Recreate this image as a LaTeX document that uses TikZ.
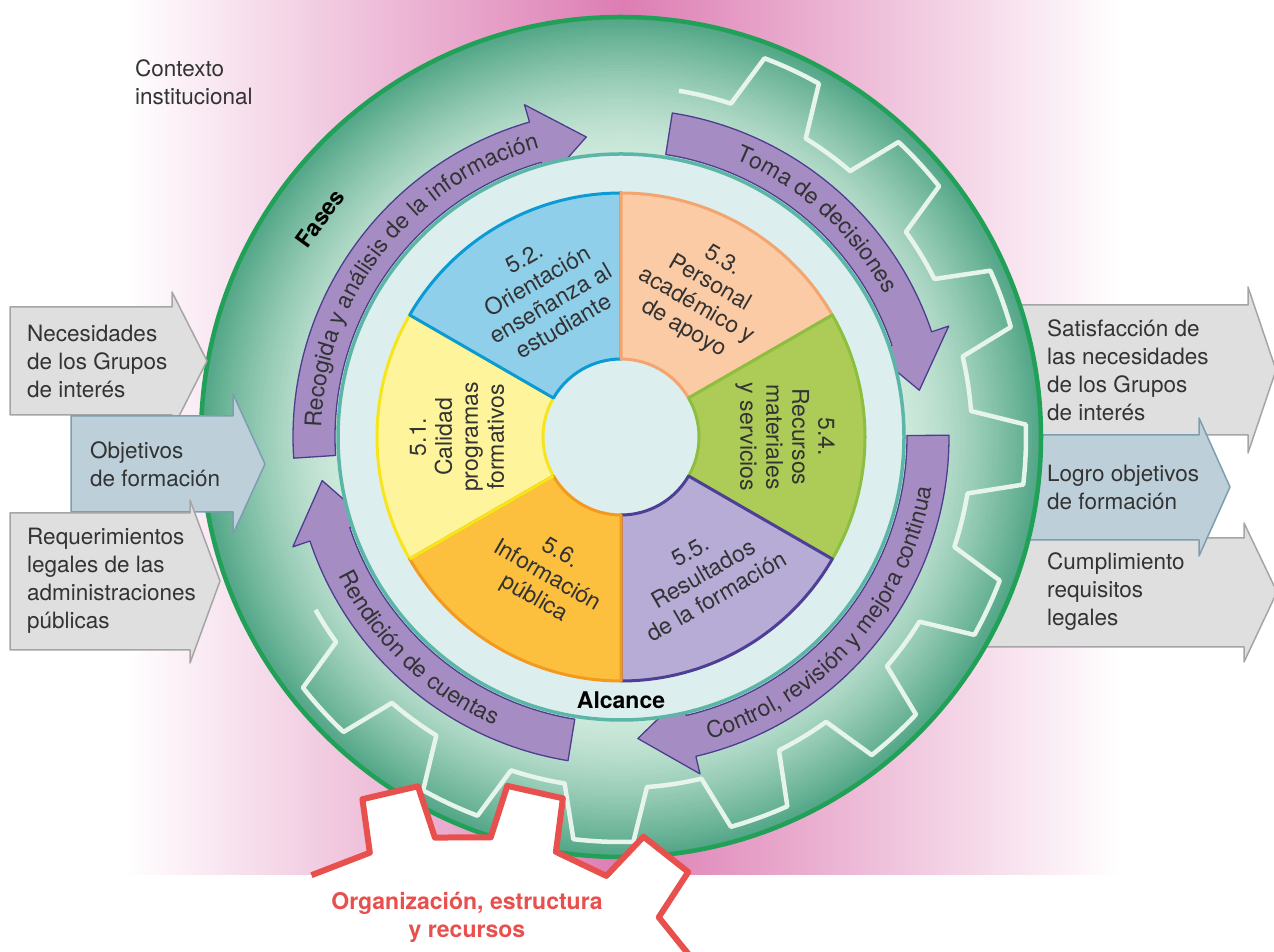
\documentclass[tikz,border=0pt]{standalone}
\usepackage{fontspec}
\setmainfont{TeX Gyre Heros}
\usetikzlibrary{decorations.text}

\definecolor{bgpink}{HTML}{DD7DB3}
\definecolor{ringA}{HTML}{CBE8DA}
\definecolor{ringE}{HTML}{52A687}
\definecolor{ringedge}{HTML}{21A058}
\definecolor{gearwhite}{HTML}{E6F4EC}
\definecolor{phasefill}{HTML}{A58DC4}
\definecolor{phaseedge}{HTML}{4E3C8E}
\definecolor{diskfill}{HTML}{DDEEEE}
\definecolor{diskedge}{HTML}{5CB6A8}
\definecolor{txt}{HTML}{333333}
\definecolor{boxgray}{HTML}{DFDFE0}
\definecolor{boxgrayedge}{HTML}{A5A5A7}
\definecolor{boxblue}{HTML}{BDD0DA}
\definecolor{boxblueedge}{HTML}{7C9EAF}
\definecolor{redgear}{HTML}{E8504E}
\definecolor{fA}{HTML}{FDF49C}\definecolor{dA}{HTML}{F7E51B}
\definecolor{fB}{HTML}{90CFEA}\definecolor{dB}{HTML}{0A9AD6}
\definecolor{fC}{HTML}{FBCBA5}\definecolor{dC}{HTML}{F4A46F}
\definecolor{fD}{HTML}{ADCB57}\definecolor{dD}{HTML}{8CBF3F}
\definecolor{fE}{HTML}{B6ACD6}\definecolor{dE}{HTML}{4C3F95}
\definecolor{fF}{HTML}{FCC03E}\definecolor{dF}{HTML}{F39A1E}

\newcommand\arcfont{\fontsize{23}{26}\selectfont}
\newcommand\phasearrow[3]{%
  \draw[phase] (#1:286pt) -- (#1:328pt) arc[start angle=#1, end angle=#2, radius=328pt]
    -- (#2:346pt) -- (#3:302pt) -- (#2:266pt) -- (#2:286pt)
    arc[start angle=#2, end angle=#1, radius=286pt] -- cycle;}
\newcommand\mysector[4]{%
  \draw[fill=#3, draw=#4, line width=3pt] (#1:78pt) -- (#1:244pt)
    arc[start angle=#1, end angle=#2, radius=244pt] -- (#2:78pt)
    arc[start angle=#2, end angle=#1, radius=78pt] -- cycle;}

\begin{document}
\begin{tikzpicture}[x=1pt, y=1pt, line join=round,
  boxtext/.style={font=\fontsize{22.5}{28}\selectfont, text=txt, align=left, anchor=west, inner sep=0pt},
  graybox/.style={fill=boxgray, draw=boxgrayedge, line width=1.5pt},
  bluebox/.style={fill=boxblue, draw=boxblueedge, line width=1.5pt},
  phase/.style={fill=phasefill, draw=phaseedge, line width=1.3pt},
  seglabel/.style={font=\fontsize{23}{26}\selectfont, text=txt, align=center, inner sep=0pt},
  boldlabel/.style={font=\bfseries\fontsize{23}{26}\selectfont, text=black, inner sep=0pt},
  gearline/.style={draw=gearwhite, line width=4.5pt},
  redline/.style={draw=redgear, line width=6pt},
  arcout/.style={decorate, decoration={text along path, text align=center, text color=txt}},
]
\useasboundingbox (0,0) rectangle (1274,952);
\fill[white] (0,0) rectangle (1274,952);
\shade[left color=white, right color=white, middle color=bgpink] (125,77) rectangle (1120,952);

% right arrows (behind the wheel)
\draw[graybox] (980,647) -- (1248,647) -- (1248,665) -- (1276,582) -- (1248,499) -- (1248,517) -- (980,517) -- cycle;
\draw[graybox] (980,414) -- (1244,414) -- (1244,429) -- (1277,360) -- (1244,290) -- (1244,305) -- (980,305) -- cycle;
\draw[bluebox] (980,517) -- (1199,517) -- (1199,534) -- (1230,465) -- (1199,396) -- (1199,412) -- (980,412) -- cycle;

\begin{scope}[shift={(621,515)}]
  % shaded outer ring (stepped radial gradient)
  \foreach \i in {0,...,45} {
    \pgfmathsetmacro\rr{420-\i*3}
    \pgfmathsetmacro\pp{100*(max(0,min(1,(\rr-288)/132)))^1.35}
    \fill[ringE!\pp!ringA] (0,0) circle (\rr);
  }
  \draw[draw=ringedge, line width=4.5pt] (0,0) circle (420pt);
  % white gear outline
  \draw[gearline] (80.5:351pt) arc[start angle=80.5, end angle=71.75, radius=351pt]
    \foreach \c in {65,42.5,...,-115} {
      -- ({\c+4.25}:405pt) arc[start angle={\c+4.25}, end angle={\c-4.25}, radius=405pt]
      -- ({\c-6.75}:351pt) arc[start angle={\c-6.75}, end angle={\c-15.75}, radius=351pt]
    }
    -- (-133.25:405pt) arc[start angle=-133.25, end angle=-141.75, radius=405pt]
    -- (-144.25:351pt) arc[start angle=-144.25, end angle=-150.5, radius=351pt];
  % phase arrows
  \phasearrow{183.7}{106.2}{96.6}
  \phasearrow{81}{18.7}{8.9}
  \phasearrow{0.3}{-76.8}{-86.8}
  \phasearrow{-99.3}{-161.5}{-171.7}
  % inner disk
  \draw[fill=diskfill, draw=diskedge, line width=3.5pt] (0,0) circle (283pt);
  % sectors
  \mysector{150}{210}{fA}{dA}
  \mysector{90}{150}{fB}{dB}
  \mysector{30}{90}{fC}{dC}
  \mysector{-30}{30}{fD}{dD}
  \mysector{-90}{-30}{fE}{dE}
  \mysector{-150}{-90}{fF}{dF}
  \draw[draw=dA, line width=3pt] (210:78pt) -- (210:244pt);
  % sector labels
  \node[seglabel, rotate=90] (s51) at (180:164pt) {5.1.\\Calidad\\programas\\formativos};
  \node[seglabel, rotate=30] (s52) at (118:164pt) {5.2.\\Orientación\\enseñanza al\\estudiante};
  \node[seglabel, rotate=-30] (s53) at (60:164pt) {5.3.\\Personal\\académico y\\de apoyo};
  \node[seglabel, rotate=-90] (s54) at (0:164pt) {5.4.\\Recursos\\materiales\\y servicios};
  \node[seglabel, rotate=30] (s55) at (-59:160pt) {5.5.\\Resultados\\de la formación};
  \node[seglabel, rotate=-30] (s56) at (-118:158pt) {5.6.\\Información\\pública};
  \node[boldlabel] (alcance) at (0,-263) {Alcance};
  \node[boldlabel, rotate=54] (fases) at (144:372pt) {Fases};
  % arc labels
  \path[arcout, decoration={text={|\arcfont|Recogida y análisis de la información}}]
    (194:300pt) arc[start angle=194, end angle=90, radius=300pt];
  \path[arcout, decoration={text={|\arcfont|Toma de decisiones}}]
    (98:300pt) arc[start angle=98, end angle=-2, radius=300pt];
  \path[arcout, decoration={text={|\arcfont|Control, revisión y mejora continua}}]
    (-93.5:315pt) arc[start angle=-93.5, end angle=10.5, radius=315pt];
  \path[arcout, decoration={text={|\arcfont|Rendición de cuentas}}]
    (-183.8:315pt) arc[start angle=-183.8, end angle=-83.8, radius=315pt];
\end{scope}

% left arrows
\draw[graybox] (10,645) -- (172,645) -- (172,660) -- (207,591) -- (172,522) -- (172,537) -- (10,537) -- cycle;
\draw[bluebox] (71,536) -- (233,536) -- (233,558) -- (265,488) -- (233,418) -- (233,440) -- (71,440) -- cycle;
\draw[graybox] (10,439) -- (190,439) -- (190,452) -- (220,371) -- (190,289) -- (190,302) -- (10,302) -- cycle;

\node[boxtext] (nec) at (27,591) {Necesidades\\de los Grupos\\de interés};
\node[boxtext] (obj) at (90,488) {Objetivos\\de formación};
\node[boxtext] (req) at (27,371) {Requerimientos\\legales de las\\administraciones\\públicas};
\node[boxtext] (sat) at (1047,582) {Satisfacción de\\las necesidades\\de los Grupos\\de interés};
\node[boxtext] (log) at (1047,465) {Logro objetivos\\de formación};
\node[boxtext] (cum) at (1047,360) {Cumplimiento\\requisitos\\legales};
\node[boxtext, anchor=north west] (ctx) at (135,892) {Contexto\\institucional};

% red gear
\begin{scope}[shift={(464,-158)}]
  \fill[white] (123:280pt) -- (110.1:274pt) -- (108.1:327pt) -- (98.1:327pt) -- (96.1:274pt)
    -- (84.4:274pt) -- (82.4:327pt) -- (72.4:327pt) -- (70.4:274pt) -- (58.7:274pt)
    -- (56.7:327pt) -- (46.7:327pt) -- (44.7:274pt) -- (33:274pt) -- (33:150pt) -- (123:150pt) -- cycle;
  \draw[redline] (123:280pt) -- (110.1:274pt) -- (108.1:327pt) -- (98.1:327pt) -- (96.1:274pt)
    -- (84.4:274pt) -- (82.4:327pt) -- (72.4:327pt) -- (70.4:274pt) -- (58.7:274pt)
    -- (56.7:327pt) -- (46.7:327pt) -- (44.7:274pt) -- (33:274pt);
\end{scope}
\node[font=\bfseries\fontsize{23}{28}\selectfont, text=redgear, align=center, inner sep=0pt] (org) at (467,35) {Organización, estructura\\y recursos};
\end{tikzpicture}
\end{document}
